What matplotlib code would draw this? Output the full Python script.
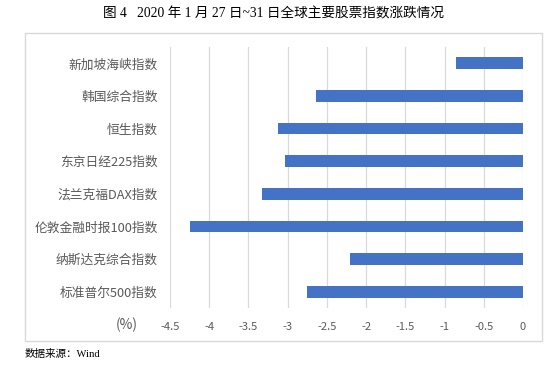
import matplotlib
matplotlib.use("Agg")
import matplotlib.pyplot as plt
from matplotlib.patches import Rectangle

plt.rcParams['font.family'] = ['Noto Sans CJK SC', 'DejaVu Sans']

indices = ["新加坡海峡指数", "韩国综合指数", "恒生指数", "东京日经225指数",
           "法兰克福DAX指数", "伦敦金融时报100指数", "纳斯达克综合指数", "标准普尔500指数"]
changes = [-0.86, -2.64, -3.12, -3.04, -3.33, -4.25, -2.20, -2.75]
ticks = [-4.5, -4, -3.5, -3, -2.5, -2, -1.5, -1, -0.5, 0]
tick_labels = ["-4.5", "-4", "-3.5", "-3", "-2.5", "-2", "-1.5", "-1", "-0.5", "0"]

fig = plt.figure(figsize=(5.5, 3.78), dpi=100)
ax = fig.add_axes([170 / 550, 1 - 308 / 378, 353 / 550, 261 / 378])

ax.barh(range(len(indices)), changes, height=0.36, color="#4472C4", zorder=3)
ax.set_xlim(-4.5, 0)
ax.set_ylim(len(indices) - 0.5, -0.5)
ax.set_yticks(range(len(indices)))
ax.set_yticklabels(indices, fontsize=9.2, color="#595959")
ax.set_xticks(ticks)
ax.set_xticklabels(tick_labels, fontsize=8, color="#595959")
ax.tick_params(axis="y", length=0, pad=9)
ax.tick_params(axis="x", length=0, pad=10)
ax.grid(axis="x", color="#d9d9d9", linewidth=0.9, zorder=0)
for s in ax.spines.values():
    s.set_visible(False)

ax.text(-0.122, -0.065, "(%)", transform=ax.transAxes, fontsize=10,
        color="#595959", ha="center", va="center")

# chart frame
fig.patches.append(Rectangle((25 / 550, 1 - 341 / 378), 517 / 550, 308 / 378,
                             transform=fig.transFigure, fill=False,
                             edgecolor="#d9d9d9", linewidth=1.0))

fig.text(0.498, 1 - 14 / 378, "图 4   2020 年 1 月 27 日~31 日全球主要股票指数涨跌情况",
         ha="center", va="center", fontsize=9.8,
         family=['Liberation Serif', 'Noto Sans CJK SC'])
fig.text(25 / 550, 1 - 354 / 378, "数据来源：Wind", ha="left", va="center",
         fontsize=7.6, family=['Liberation Serif', 'Noto Sans CJK SC'])

fig.savefig("out.png", dpi=100)
